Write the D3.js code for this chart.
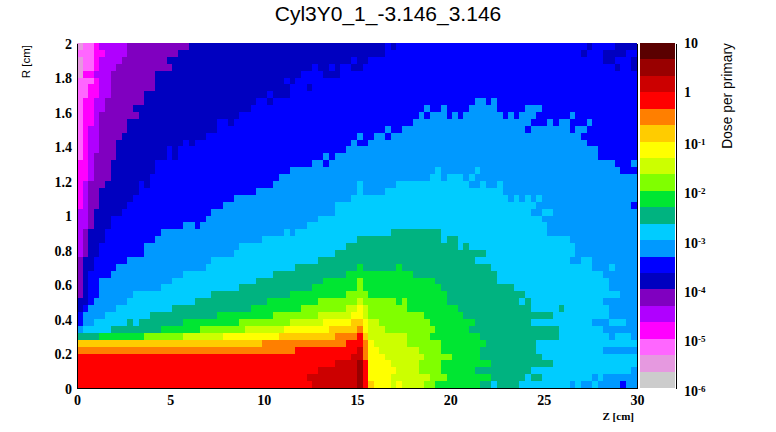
<!DOCTYPE html>
<html><head><meta charset="utf-8">
<script src="https://cdn.jsdelivr.net/npm/d3@7"></script>
<style>
html,body{margin:0;padding:0;background:#fff}
svg{display:block}
</style></head><body>
<svg id="c" width="776" height="432"></svg>
<script>
const chartTitle = "Cyl3Y0_1_-3.146_3.146";
const xTicks = [0,5,10,15,20,25,30];
const yTicks = [0,0.2,0.4,0.6,0.8,1,1.2,1.4,1.6,1.8,2];
const zBinWidth = 0.3, rBinWidth = 0.04;
const colourBands = ["#cccccc","#e699e0","#ff66ff","#ff00ff","#b000ff","#8000c0","#0000c0","#0000ff","#0099ff","#00ccff","#00b380","#00e632","#80ff00","#ccff00","#ffff00","#ffcc00","#ff7f00","#ff0000","#cc0000","#990000","#5a0000"];
const colourTicks = [10,1,1e-1,1e-2,1e-3,1e-4,1e-5,1e-6];
// Dose band per R row (bottom row first), stored as runs: band, last Z bin (exclusive), ...
const doseRuns = [
[17,42,18,50,19,51,17,52,15,53,14,56,13,57,14,58,13,62,12,64,11,72,10,74,9,75,10,79,9,88,8,89,9,90,8,92,9,93,8,97,7,98,8,100],
[17,41,18,50,19,51,17,52,14,56,13,63,12,66,11,74,10,80,9,81,10,83,9,92,8,93,9,94,8,100],
[17,43,18,50,19,51,17,52,14,57,13,61,12,65,11,71,10,81,9,99,8,100],
[17,46,18,50,19,51,17,52,14,56,13,61,12,65,11,74,10,85,9,100],
[17,49,18,51,16,52,14,55,13,62,12,67,11,72,10,83,9,100],
[16,39,17,50,18,51,16,52,14,54,13,61,12,65,11,72,10,82,9,94,8,100],
[15,33,16,48,17,51,16,52,14,53,13,59,12,65,11,73,10,82,9,100],
[10,4,11,12,12,19,13,26,14,36,15,46,16,50,17,51,15,52,13,59,12,63,11,72,10,86,9,95,8,96,9,99,8,100],
[8,1,9,6,10,15,11,22,12,30,13,37,14,45,15,50,16,51,14,52,13,55,12,64,11,70,10,86,9,94,8,100],
[7,1,8,3,9,9,10,10,9,11,10,19,11,29,12,38,13,44,14,49,15,51,14,52,13,54,12,63,11,71,10,81,9,92,8,95,9,98,8,100],
[7,1,8,5,9,13,10,25,11,35,12,43,13,49,14,51,13,52,12,62,11,69,10,85,9,95,8,100],
[6,1,7,2,8,7,9,17,10,31,11,40,12,48,13,50,14,51,13,52,12,59,11,68,10,81,9,86,10,87,9,95,8,100],
[6,2,7,3,8,9,9,21,10,34,11,43,12,50,13,51,12,57,11,58,12,59,11,66,10,79,9,80,10,81,9,94,8,100],
[5,1,6,2,7,4,8,10,9,24,10,38,11,48,12,52,11,66,10,80,9,97,8,100],
[5,1,6,2,7,4,8,15,9,29,10,42,11,50,12,51,11,65,10,78,9,95,8,100],
[5,1,6,2,7,4,8,17,9,32,10,44,11,50,12,51,11,64,10,75,9,95,8,100],
[5,1,6,2,7,6,8,19,9,35,10,48,11,60,10,75,9,94,8,100],
[5,1,6,3,7,7,8,23,9,39,10,50,11,51,10,57,11,58,10,74,9,92,8,95,9,96,8,100],
[5,1,6,3,7,9,8,24,9,43,10,71,9,88,8,90,9,92,8,100],
[4,1,5,2,6,4,7,12,8,28,9,46,10,73,9,89,8,100],
[4,1,5,2,6,4,7,12,8,29,9,48,10,68,9,69,10,70,9,89,8,100],
[4,1,5,2,6,5,7,14,8,33,9,50,10,65,9,66,10,68,9,88,8,100],
[4,1,5,2,6,5,7,15,8,37,9,38,8,39,9,56,10,65,9,84,8,100],
[4,2,5,3,6,6,7,19,8,21,7,22,8,41,9,84,8,100],
[4,2,5,3,6,6,7,23,8,43,9,83,8,100],
[4,2,5,3,6,8,7,24,8,46,9,81,8,83,9,85,8,100],
[3,1,4,2,5,4,6,9,7,26,8,46,9,82,8,99,7,100],
[3,1,4,2,5,4,6,10,7,28,8,49,9,77,8,78,9,79,8,80,9,81,8,82,9,83,8,100],
[3,1,4,2,5,4,6,11,7,32,8,50,9,51,8,55,9,76,8,100],
[3,1,4,2,5,5,6,11,7,12,6,13,7,35,8,50,9,51,8,57,9,70,8,72,9,73,8,75,9,76,8,100],
[3,2,4,3,5,6,6,13,7,36,8,63,9,65,8,66,9,69,8,70,9,71,8,100],
[3,2,4,3,5,6,6,14,7,38,8,64,9,65,8,71,9,72,8,97,7,100],
[3,2,4,3,5,6,6,14,7,42,8,44,7,45,8,96,7,99,8,100],
[2,1,3,2,4,3,5,7,6,16,7,17,6,18,7,44,8,45,7,46,8,93,7,100],
[2,1,3,2,4,4,5,7,6,16,7,17,6,18,7,48,8,93,7,100],
[2,1,3,2,4,4,5,7,6,19,7,20,6,21,7,49,8,50,7,52,8,91,7,100],
[2,1,3,2,4,4,5,8,6,23,7,50,8,51,7,53,8,55,7,56,8,90,7,100],
[2,1,3,2,4,4,5,9,6,25,7,55,8,56,7,58,8,80,7,81,8,88,7,89,8,91,7,100],
[2,1,3,3,4,4,5,9,6,25,7,27,6,28,7,60,8,81,7,84,8,85,7,86,8,88,7,91,8,92,7,100],
[2,1,3,3,4,4,5,11,6,29,7,61,8,62,7,63,8,66,7,67,8,68,7,69,8,76,7,77,8,78,7,79,8,82,7,88,8,89,7,100],
[2,1,3,3,4,5,5,10,6,31,7,62,8,63,7,65,8,66,7,70,8,75,7,80,8,83,7,100],
[2,1,3,3,4,5,5,12,6,32,7,34,6,35,7,71,8,73,7,74,8,75,7,100],
[2,2,3,4,4,6,5,12,6,34,7,35,6,38,7,100],
[2,2,3,4,4,6,5,14,6,38,7,41,6,42,7,100],
[2,3,3,4,4,6,5,14,6,37,7,38,6,39,7,100],
[1,1,3,3,4,6,5,14,6,40,7,44,6,47,7,100],
[1,1,2,3,3,4,4,7,5,17,6,42,7,43,6,45,7,46,6,47,7,49,6,51,7,96,6,97,7,99,6,100],
[1,1,2,3,3,4,4,8,5,16,6,49,7,50,6,52,7,94,6,96,7,99,6,100],
[2,3,3,5,4,9,5,18,6,55,7,90,6,91,7,94,6,98,7,100],
[1,1,2,3,3,4,4,9,5,20,6,55,7,56,6,57,7,91,6,92,7,96,6,100]
];

const svg = d3.select("#c");
const x = d3.scaleLinear().domain([0,30]).range([77,637]);
const y = d3.scaleLinear().domain([0,2]).range([388,43]);
const cy = d3.scaleLog().domain([1e-6,10]).range([388,43]);
const colour = d3.scaleQuantize().domain([-6,1]).range(colourBands);

const cells = [];
doseRuns.forEach((runs,j)=>{
  let i=0;
  for(let k=0;k<runs.length;k+=2){
    for(;i<runs[k+1];i++){
      cells.push({z:i*zBinWidth, r:j*rBinWidth, dose:Math.pow(10,-6+(runs[k]+0.5)/3)});
    }
  }
});
const snap = v=>Math.round(v);
svg.append("g").selectAll("rect").data(cells).join("rect")
  .attr("x",d=>snap(x(d.z)))
  .attr("y",d=>snap(y(d.r+rBinWidth)))
  .attr("width",d=>snap(x(d.z+zBinWidth))-snap(x(d.z)))
  .attr("height",d=>snap(y(d.r))-snap(y(d.r+rBinWidth)))
  .attr("fill",d=>colour(Math.log10(d.dose)))
  .attr("shape-rendering","crispEdges");

const bandSteps = colourBands.map((c,i)=>({lo:Math.pow(10,-6+i/3),hi:Math.pow(10,-6+(i+1)/3),c}));
svg.append("g").selectAll("rect").data(bandSteps).join("rect")
  .attr("x",640).attr("width",35)
  .attr("y",d=>snap(cy(d.hi)))
  .attr("height",d=>snap(cy(d.lo))-snap(cy(d.hi)))
  .attr("fill",d=>d.c)
  .attr("shape-rendering","crispEdges");

const xAxis = d3.axisBottom(x).tickValues(xTicks).tickSize(0).tickPadding(7).tickFormat(d=>d);
const yAxis = d3.axisLeft(y).tickValues(yTicks).tickSize(0).tickPadding(5).tickFormat(d=>d);
const gx = svg.append("g").attr("transform","translate(0,388)").call(xAxis);
const gy = svg.append("g").attr("transform","translate(77,1)").call(yAxis);
gy.select(".domain").attr("transform","translate(0,-1)");
const gr = svg.append("g").attr("transform","translate(637,0)").call(d3.axisRight(y).tickValues([]).tickSize(0));
const gc = svg.append("g").attr("transform","translate(676,0)")
  .call(d3.axisRight(cy).tickValues(colourTicks).tickSize(0).tickPadding(8).tickFormat(""));
[gx,gy,gr,gc].forEach(g=>{
  g.attr("font-family",null).attr("font-size",null);
  g.select(".domain").attr("stroke","#000").attr("stroke-width",1.5).attr("shape-rendering","crispEdges");
  g.selectAll(".tick text")
    .style("font-family","'Liberation Serif', serif")
    .style("font-weight","bold")
    .style("font-size","14px")
    .style("fill","#000");
});
gc.selectAll(".tick text").each(function(d){
  const t=d3.select(this);
  const e=Math.round(Math.log10(d));
  if(e===1) t.text("10");
  else if(e===0) t.text("1");
  else{
    t.attr("dy","0.5em");
    t.append("tspan").text("10");
    t.append("tspan").text(String(e)).attr("dy",-4).style("font-size","9px");
  }
});

svg.append("text").attr("x",388).attr("y",21).attr("text-anchor","middle")
  .style("font-family","'Liberation Sans', sans-serif").style("font-size","21px").text(chartTitle);
svg.append("text").attr("text-anchor","end").attr("transform","translate(30,45) rotate(-90)")
  .style("font-family","'Liberation Sans', sans-serif").style("font-size","11.5px").text("R [cm]");
svg.append("text").attr("x",634).attr("y",420).attr("text-anchor","end")
  .style("font-family","'Liberation Serif', serif").style("font-weight","bold").style("font-size","11px").text("Z [cm]");
svg.append("text").attr("text-anchor","end").attr("transform","translate(732,43) rotate(-90)")
  .style("font-family","'Liberation Sans', sans-serif").style("font-size","13.8px").text("Dose per primary");
</script>
</body></html>
